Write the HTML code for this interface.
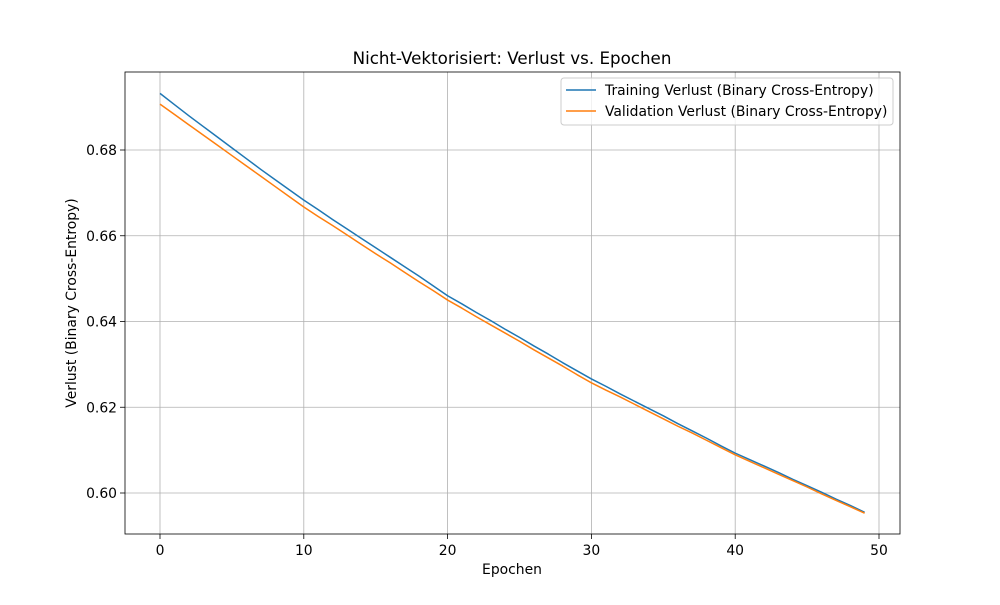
<!DOCTYPE html>
<html><head><meta charset="utf-8"><style>
body{margin:0;background:#fff;font-family:"Liberation Sans","DejaVu Sans",sans-serif;}
svg text{font-family:"DejaVu Sans","Liberation Sans",sans-serif;}
</style></head><body>
<svg id="chart" width="1000" height="600"></svg>
<script>
const epochs = Array.from({length:50},(_,i)=>i);
const trainLoss = [.6932,.6906,.6880,.6855,.6830,.6805,.6780,.6755,.6731,.6707,.6683,.6661,.6638,.6616,.6594,.6572,.6550,.6528,.6506,.6483,.6460,.6441,.6421,.6402,.6382,.6363,.6343,.6324,.6304,.6285,.6266,.6249,.6231,.6214,.6197,.6180,.6162,.6145,.6128,.6110,.6093,.6078,.6063,.6048,.6032,.6017,.6002,.5986,.5971,.5955];
const valLoss = [.6907,.6883,.6859,.6835,.6811,.6787,.6763,.6739,.6715,.6691,.6667,.6645,.6624,.6602,.6580,.6558,.6537,.6515,.6493,.6472,.6450,.6431,.6411,.6392,.6373,.6354,.6334,.6315,.6296,.6276,.6257,.6240,.6224,.6207,.6190,.6173,.6156,.6140,.6123,.6106,.6089,.6074,.6059,.6044,.6029,.6014,.5998,.5983,.5968,.5953];
const xTicks = [0,10,20,30,40,50];
const yTicks = [0.60,0.62,0.64,0.66,0.68];
const yTickLabels = ["0.60","0.62","0.64","0.66","0.68"];

const L=125,R=900,T=72,B=534;
const xs=v=>160+(v-0)*(879-160)/50;
const ys=v=>493-(v-0.60)*(493-150)/0.08;
const svg=document.getElementById('chart');
const NS='http://www.w3.org/2000/svg';
function mk(tag,attrs,parent){const e=document.createElementNS(NS,tag);for(const k in attrs)e.setAttribute(k,attrs[k]);(parent||svg).appendChild(e);return e;}

xTicks.forEach((t,i)=>{
  const g=mk('line',{x1:xs(t),x2:xs(t),y1:T,y2:B,stroke:'#b0b0b0','stroke-width':0.8});
  
  
  mk('line',{x1:xs(t),x2:xs(t),y1:B,y2:B+5,stroke:'#000','stroke-width':0.8});
  const tx=mk('text',{x:xs(t),y:B+21,'text-anchor':'middle','font-size':13.9});
  tx.textContent=t;
  
  
});
yTicks.forEach((t,i)=>{
  const g=mk('line',{x1:L,x2:R,y1:ys(t),y2:ys(t),stroke:'#b0b0b0','stroke-width':0.8});
  
  
  mk('line',{x1:L-5,x2:L,y1:ys(t),y2:ys(t),stroke:'#000','stroke-width':0.8});
  const tx=mk('text',{x:L-8,y:ys(t)+5,'text-anchor':'end','font-size':13.9});
  tx.textContent=yTickLabels[i];
  
  
});
function line(data,color,name){
  const p=mk('polyline',{points:data.map((v,i)=>xs(epochs[i])+','+ys(v)).join(' '),fill:'none',stroke:color,'stroke-width':1.5,'stroke-linejoin':'round'});
  
  
}
line(trainLoss,'#1f77b4','training-loss-line');
line(valLoss,'#ff7f0e','validation-loss-line');
const frame=mk('rect',{x:L,y:T,width:R-L,height:B-T,fill:'none',stroke:'#000','stroke-width':0.8});



const title=mk('text',{x:512,y:64,'text-anchor':'middle','font-size':16.7});
title.textContent='Nicht-Vektorisiert: Verlust vs. Epochen';


const xl=mk('text',{x:512,y:574,'text-anchor':'middle','font-size':13.9});
xl.textContent='Epochen';


const yl=mk('text',{x:0,y:0,'text-anchor':'middle','font-size':13.9,transform:'translate(76,303) rotate(-90)'});
yl.textContent='Verlust (Binary Cross-Entropy)';



const lg=mk('rect',{x:561,y:78,width:332,height:47,rx:3,fill:'#fff','fill-opacity':0.8,stroke:'#ccc'});


[['#1f77b4','Training Verlust (Binary Cross-Entropy)',90],['#ff7f0e','Validation Verlust (Binary Cross-Entropy)',111]].forEach(([c,t,y])=>{
  mk('line',{x1:566,x2:596,y1:y,y2:y,stroke:c,'stroke-width':1.5});
  const tx=mk('text',{x:605,y:y+5,'font-size':13.9});
  tx.textContent=t;
  
  
});
</script>
</body></html>
